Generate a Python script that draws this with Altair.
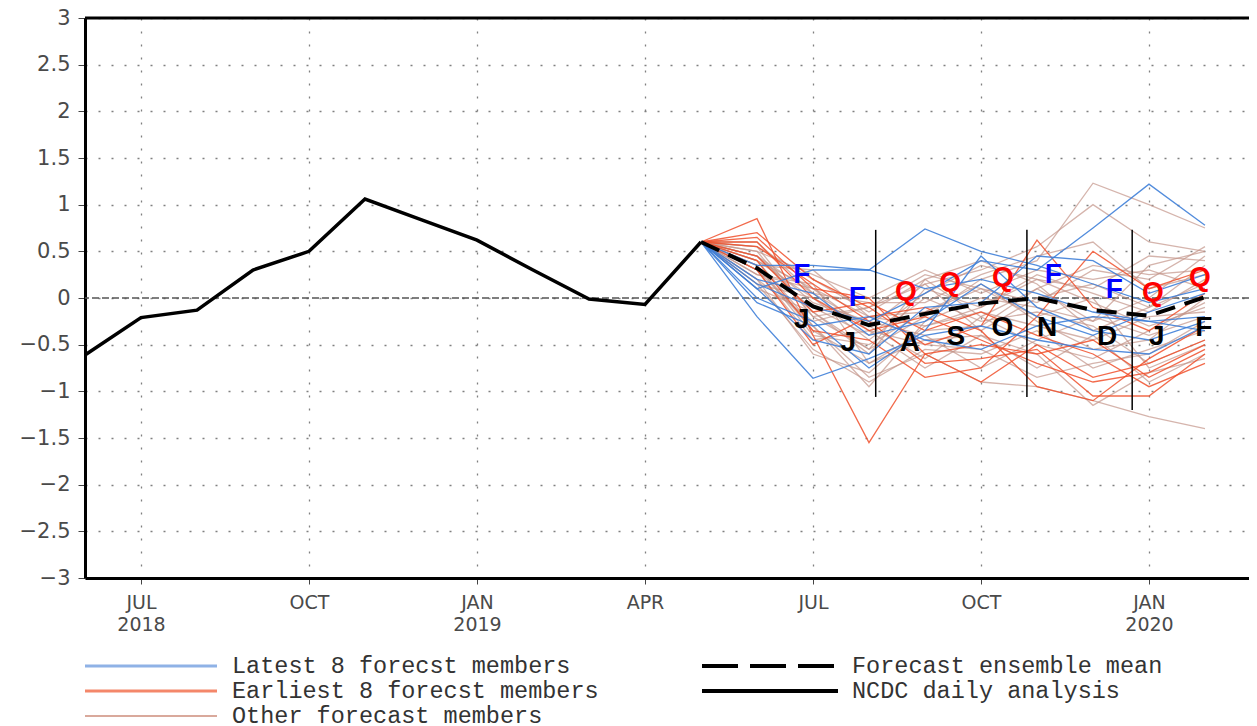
import altair as alt
import pandas as pd

# ---------------- data ----------------
# month index: 0 = Jun 2018 ... 20 = Feb 2020
obs_idx = list(range(0, 12))          # Jun 2018 .. May 2019
obs_val = [-0.61, -0.21, -0.13, 0.30, 0.50, 1.06, 0.84, 0.62, 0.30, -0.01, -0.07, 0.60]

fc_idx = list(range(12, 21))          # Jun 2019 .. Feb 2020
mean_val = [0.32, -0.09, -0.29, -0.17, -0.06, 0.00, -0.13, -0.19, 0.01]

blue_members = [
    [0.10, 0.30, 0.30, 0.74, 0.50, 0.35, 0.15, -0.05, 0.10],
    [0.15, -0.10, -0.25, 0.05, 0.40, 0.30, 0.75, 1.22, 0.78],
    [-0.20, -0.86, -0.65, -0.40, -0.30, -0.45, -0.55, -0.60, -0.30],
    [0.35, 0.35, 0.30, 0.10, 0.20, 0.05, -0.15, -0.25, -0.20],
    [0.00, -0.25, -0.75, -0.35, 0.45, -0.10, -0.35, -0.45, -0.25],
    [0.10, -0.45, -0.60, -0.10, -0.05, 0.45, 0.40, 0.05, 0.25],
    [-0.05, -0.30, -0.20, -0.45, -0.55, -0.30, -0.20, -0.25, -0.35],
    [0.20, 0.05, -0.40, -0.25, 0.15, -0.20, -0.40, -0.15, 0.05],
]
red_members = [
    [0.85, -0.40, -1.55, -0.60, -0.90, -0.50, -0.85, -0.70, -0.45],
    [0.70, 0.20, -0.10, -0.50, -0.30, 0.62, -0.10, -0.35, 0.05],
    [0.55, 0.15, -0.25, -0.70, -0.65, -0.55, -1.05, -1.05, -0.60],
    [0.60, 0.00, -0.35, -0.20, -0.45, -0.70, -0.90, -0.80, -0.50],
    [0.40, -0.35, -0.45, -0.85, -0.75, -0.20, 0.50, 0.10, 0.30],
    [0.45, -0.15, -0.05, -0.35, -0.15, -0.40, -0.60, -0.95, -0.70],
    [0.30, -0.50, -0.20, -0.10, -0.35, -0.95, -1.10, -0.65, -0.30],
    [0.65, 0.10, 0.00, -0.60, -0.50, -0.60, -0.45, -0.85, -0.55],
]
other_members = [
    [0.50, -0.20, -0.55, -0.20, 0.20, 0.40, 1.23, 1.00, 0.75],
    [0.45, 0.05, -0.30, 0.15, 0.30, 0.55, 1.00, 0.60, 0.50],
    [0.40, -0.30, -0.85, -0.60, -0.90, -0.95, -1.10, -1.27, -1.40],
    [0.30, -0.10, -0.40, 0.05, 0.35, 0.20, 0.10, 0.45, 0.40],
    [0.25, 0.10, -0.20, -0.30, -0.10, 0.25, 0.05, -0.15, 0.20],
    [0.35, -0.35, -0.70, -0.45, -0.40, -0.75, -0.40, -0.90, -0.60],
    [0.20, -0.25, -0.10, 0.25, 0.10, -0.05, 0.30, 0.20, 0.55],
    [0.55, 0.20, -0.15, 0.20, -0.20, 0.10, -0.25, 0.00, 0.45],
    [0.15, -0.55, -0.90, -0.55, -0.60, -0.35, -0.75, -0.55, -0.35],
    [0.40, 0.00, -0.45, 0.00, -0.25, -0.15, -0.30, -0.70, -0.45],
    [0.30, -0.45, -0.35, -0.75, -0.40, -0.60, -1.15, -0.80, -0.65],
    [0.50, 0.25, 0.00, 0.30, 0.05, 0.30, 0.20, 0.30, 0.10],
    [0.10, -0.15, -0.60, 0.10, -0.10, 0.20, -0.05, -0.30, -0.10],
    [0.45, -0.05, -0.25, -0.40, -0.75, -0.45, -0.20, -0.40, -0.20],
    [0.35, -0.40, -0.50, -0.15, 0.15, -0.25, -0.55, -0.45, 0.00],
    [0.25, 0.15, -0.70, -0.35, -0.30, 0.10, 0.35, 0.25, 0.30],
    [0.60, 0.05, -0.05, -0.05, 0.25, 0.45, 0.60, 0.10, 0.25],
    [0.20, -0.60, -0.80, -0.30, -0.15, -0.30, -0.45, -0.20, -0.15],
    [0.40, 0.10, -0.35, -0.50, -0.55, -0.85, -0.70, -0.60, -0.25],
    [0.55, -0.20, -0.10, 0.15, -0.35, 0.00, 0.15, -0.10, 0.35],
    [0.30, -0.30, -0.95, -0.25, 0.00, -0.10, -0.25, 0.35, 0.50],
    [0.15, 0.00, -0.30, -0.65, -0.20, -0.50, -0.65, -0.35, -0.05],
    [0.45, -0.15, -0.55, 0.20, 0.40, 0.15, -0.35, -0.10, 0.15],
    [0.35, 0.30, -0.20, -0.15, 0.10, -0.20, 0.00, -0.75, -0.50],
]

# annotation separators (month index, top value, bottom value)
sep_idx = [14.12, 16.82, 18.70]
sep_top = [0.73, 0.73, 0.73]
sep_bot = [-1.06, -1.06, -1.20]

# letters
month_letters = ["J", "J", "A", "S", "O", "N", "D", "J", "F"]
month_letter_idx = [12.80, 13.63, 14.73, 15.55, 16.38, 17.18, 18.25, 19.14, 19.98]
month_letter_val = [-0.24, -0.48, -0.48, -0.42, -0.32, -0.32, -0.42, -0.42, -0.32]
f_idx = [12.80, 13.79, 17.29, 18.38]
f_val = [0.25, 0.00, 0.25, 0.09]
q_idx = [14.66, 15.45, 16.39, 19.07, 19.91]
q_val = [0.06, 0.16, 0.21, 0.05, 0.21]

# axes
x_tick_vals = [1, 4, 7, 10, 13, 16, 19]
x_tick_mon = ["JUL", "OCT", "JAN", "APR", "JUL", "OCT", "JAN"]
x_tick_year = ["2018", "", "2019", "", "", "", "2020"]
y_tick_vals = [-3, -2.5, -2, -1.5, -1, -0.5, 0, 0.5, 1, 1.5, 2, 2.5, 3]

legend_left = ["Latest 8 forecst members", "Earliest 8 forecst members", "Other forecast members"]
legend_right = ["Forecast ensemble mean", "NCDC daily analysis"]

# ---------------- build tables ----------------
def members_df(members, group):
    rows = []
    for m, vals in enumerate(members):
        rows.append({"idx": obs_idx[-1], "v": obs_val[-1], "member": f"{group}{m}"})
        for i, v in zip(fc_idx, vals):
            rows.append({"idx": i, "v": v, "member": f"{group}{m}"})
    return pd.DataFrame(rows)

df_blue = members_df(blue_members, "b")
df_red = members_df(red_members, "r")
df_other = members_df(other_members, "o")
df_obs = pd.DataFrame({"idx": obs_idx, "v": obs_val})
df_mean = pd.DataFrame({"idx": [obs_idx[-1]] + fc_idx, "v": [obs_val[-1]] + mean_val})
df_sep = pd.DataFrame({"idx": sep_idx, "v": sep_top, "v2": sep_bot})
df_ml = pd.DataFrame({"idx": month_letter_idx, "v": month_letter_val, "t": month_letters})
df_f = pd.DataFrame({"idx": f_idx, "v": f_val, "t": ["F"] * len(f_idx)})
df_q = pd.DataFrame({"idx": q_idx, "v": q_val, "t": ["Q"] * len(q_idx)})
df_zero = pd.DataFrame({"v": [0]})

# label expression
expr = "''"
for val, mon, yr in reversed(list(zip(x_tick_vals, x_tick_mon, x_tick_year))):
    lab = f"['{mon}','{yr}']" if yr else f"'{mon}'"
    expr = f"datum.value == {val} ? {lab} : ({expr})"

W, H = 1164, 560
AX_FONT = "DejaVu Sans"

xscale = alt.Scale(domain=[0, 20.786], nice=False, zero=False)
yscale = alt.Scale(domain=[-3, 3], nice=False)
xaxis = alt.Axis(values=x_tick_vals, labelExpr=expr, title=None, grid=True,
                 gridDash=[2, 11], gridColor="#808080", gridWidth=1.3,
                 domainColor="black", domainWidth=3, tickColor="#444", tickSize=6,
                 labelFont=AX_FONT, labelFontSize=19, labelColor="#4a4a4a",
                 labelPadding=9, labelLineHeight=22)
yaxis = alt.Axis(values=y_tick_vals, format="~g", title=None, grid=True,
                 gridDash=[2, 11], gridColor="#808080", gridWidth=1.3,
                 domainColor="black", domainWidth=3, tickColor="#444", tickSize=7,
                 labelFont=AX_FONT, labelFontSize=21, labelColor="#4a4a4a",
                 labelPadding=8)

X = alt.X("idx:Q", scale=xscale, axis=xaxis)
Y = alt.Y("v:Q", scale=yscale, axis=yaxis)

zero = alt.Chart(df_zero).mark_rule(color="#555", strokeWidth=1.3, strokeDash=[7, 3]).encode(y=Y)

def spaghetti(df, color, opacity, width):
    return alt.Chart(df).mark_line(color=color, opacity=opacity, strokeWidth=width).encode(
        x=X, y=Y, detail="member:N", order="idx:Q")

l_other = spaghetti(df_other, "#c39489", 0.7, 1.3)
l_red = spaghetti(df_red, "#f0502c", 0.85, 1.3)
l_blue = spaghetti(df_blue, "#3f7fd8", 0.9, 1.3)

l_mean = alt.Chart(df_mean).mark_line(color="black", strokeWidth=4, strokeDash=[20, 10]).encode(x=X, y=Y)
l_obs = alt.Chart(df_obs).mark_line(color="black", strokeWidth=3.5).encode(x=X, y=Y)

seps = alt.Chart(df_sep).mark_rule(color="black", strokeWidth=1.5).encode(x=X, y=Y, y2="v2:Q")

def letters(df, color):
    return alt.Chart(df).mark_text(font="Liberation Sans", fontWeight="bold", fontSize=28,
                                   color=color, align="center", baseline="middle").encode(
        x=X, y=Y, text="t:N")

t_ml = letters(df_ml, "black")
t_f = letters(df_f, "#0000ff")
t_q = letters(df_q, "#ff0000")

top_border = alt.Chart(pd.DataFrame({"a": [0]})).mark_rule(color="black", strokeWidth=3).encode(
    x=alt.value(0), x2=alt.value(W), y=alt.value(0))

# legend
LEG_FONT = "Liberation Mono"
leg_layers = []
left_styles = [("#8fb2e6", 3, None), ("#f4876a", 3, None), ("#d9a99c", 2, None)]
for k, (lab, (col, sw, dash)) in enumerate(zip(legend_left, left_styles)):
    yy = 648 + 25 * k
    d = pd.DataFrame({"t": [lab]})
    leg_layers.append(alt.Chart(d).mark_rule(color=col, strokeWidth=sw).encode(
        x=alt.value(0), x2=alt.value(132), y=alt.value(yy)))
    leg_layers.append(alt.Chart(d).mark_text(font=LEG_FONT, fontSize=23.5, color="#333",
                                             align="left", baseline="middle").encode(
        x=alt.value(147), y=alt.value(yy), text="t:N"))
right_styles = [("black", 4, [36, 12]), ("black", 4, None)]
for k, (lab, (col, sw, dash)) in enumerate(zip(legend_right, right_styles)):
    yy = 648 + 25 * k
    d = pd.DataFrame({"t": [lab]})
    kw = dict(color=col, strokeWidth=sw)
    if dash:
        kw["strokeDash"] = dash
    leg_layers.append(alt.Chart(d).mark_rule(**kw).encode(
        x=alt.value(617), x2=alt.value(753), y=alt.value(yy)))
    leg_layers.append(alt.Chart(d).mark_text(font=LEG_FONT, fontSize=23.5, color="#333",
                                             align="left", baseline="middle").encode(
        x=alt.value(767), y=alt.value(yy), text="t:N"))

chart = alt.layer(
    zero, l_other, l_red, l_blue, l_mean, l_obs, seps, t_ml, t_f, t_q, top_border, *leg_layers
).properties(
    width=W, height=H,
    autosize=alt.AutoSizeParams(type="none"),
    padding={"left": 77, "top": 10, "right": 0, "bottom": 148},
).configure_view(stroke=None).configure(background="white")

chart.save("out.html", embed_options={"renderer": "svg", "actions": False})
